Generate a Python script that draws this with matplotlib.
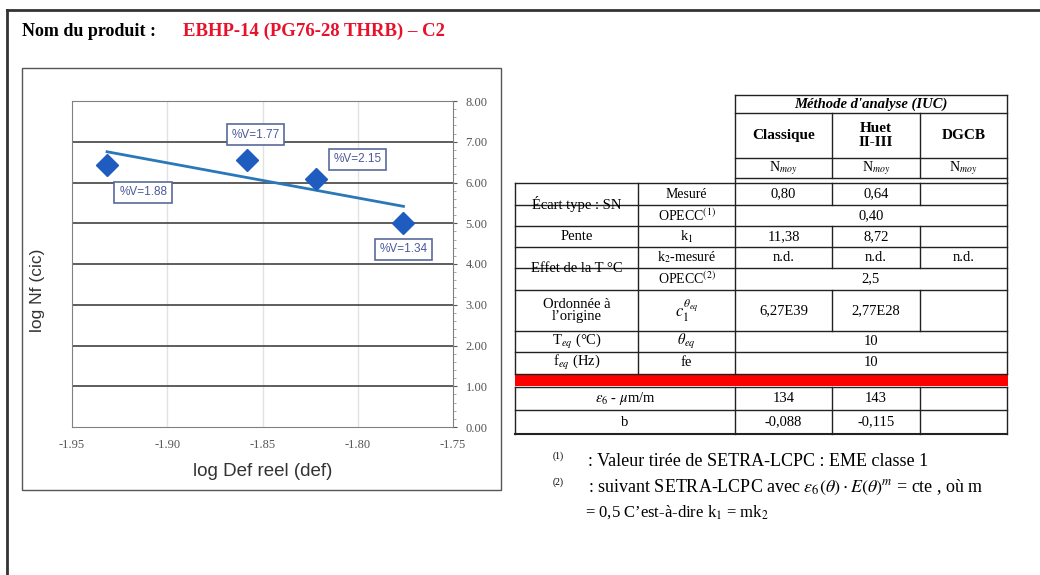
import numpy as np
from matplotlib import pyplot as plt
from matplotlib.patches import Rectangle

plt.rcParams['mathtext.fontset'] = 'stix'

# chart data
log_def = [-1.9316, -1.858, -1.822, -1.776]
log_nf = [6.44, 6.56, 6.09, 5.01]
point_labels = ['%V=1.88', '%V=1.77', '%V=2.15', '%V=1.34']
label_offsets = [(26, -20), (6, 18), (30, 14), (0, -19)]
x_ticks = [-1.95, -1.90, -1.85, -1.80, -1.75]
y_ticks = [0, 1, 2, 3, 4, 5, 6, 7, 8]

# table data
methods = ['Classique', 'Huet\nII-III', 'DGCB']
n_labels = ['N$_{moy}$', 'N$_{moy}$', 'N$_{moy}$']
sn_mesure = ['0,80', '0,64', '']
sn_opecc = '0,40'
pente = ['11,38', '8,72', '']
k2_mesure = ['n.d.', 'n.d.', 'n.d.']
k2_opecc = '2,5'
ordonnee = ['6,27E39', '2,77E28', '']
t_eq = '10'
f_eq = '10'
eps6 = ['134', '143', '']
b_vals = ['-0,088', '-0,115', '']

serif = 'Liberation Serif'
sans = 'Liberation Sans'

fig = plt.figure(figsize=(10.4, 5.75), dpi=100)

# page overlay in pixel coords
pg = fig.add_axes([0, 0, 1, 1])
pg.set_xlim(0, 1040)
pg.set_ylim(575, 0)
pg.axis('off')

pg.plot([7, 1040], [10, 10], color='#333333', lw=2)
pg.plot([7, 7], [10, 575], color='#333333', lw=2)
pg.add_patch(Rectangle((22, 68), 479, 422, fill=False, ec='#555555', lw=1))

pg.text(22, 31, 'Nom du produit :', fontsize=13, fontweight='bold', family=serif, va='center')
pg.text(183, 31, 'EBHP-14 (PG76-28 THRB) \u2013 C2', fontsize=13.5, fontweight='bold',
        family=serif, color='#e8102a', va='center')

# chart
ax = fig.add_axes([72 / 1040, 1 - 427 / 575, 381 / 1040, 326 / 575])
for s in ax.spines.values():
    s.set_color('#808080')
for yv in y_ticks[1:-1]:
    ax.axhline(yv, color='#505050', lw=1.3, zorder=1)
for xv in x_ticks[1:-1]:
    ax.axvline(xv, color='#e2e2e2', lw=1, zorder=0)

fit = np.polyfit(log_def, log_nf, 1)
xs = np.array([min(log_def), max(log_def)])
ax.plot(xs, np.polyval(fit, xs), color='#2a78b8', lw=2, zorder=2)
ax.plot(log_def, log_nf, 'D', color='#1f5cbf', ms=11, zorder=3)

for x, y, lab, off in zip(log_def, log_nf, point_labels, label_offsets):
    ax.annotate(lab, (x, y), xytext=off, textcoords='offset points', ha='center', va='center',
                fontsize=8.5, color='#4a5a9a', family=sans,
                bbox=dict(boxstyle='square,pad=0.4', fc='white', ec='#5a6a9a', lw=1.2))

ax.set_xlim(-1.95, -1.75)
ax.set_ylim(0, 8)
ax.set_xticks(x_ticks)
ax.set_xticklabels(['%.2f' % v for v in x_ticks])
ax.yaxis.tick_right()
ax.set_yticks(y_ticks)
ax.set_yticklabels(['%.2f' % v for v in y_ticks])
ax.set_yticks(np.arange(0, 8.01, 0.2), minor=True)
ax.tick_params(axis='both', labelsize=9, colors='#555555', length=3, pad=6)
ax.tick_params(axis='y', which='minor', length=2, colors='#999999')
ax.tick_params(axis='x', length=0, pad=9)
for t in ax.get_xticklabels() + ax.get_yticklabels():
    t.set_family(serif)
ax.yaxis.set_label_position('left')
ax.set_ylabel('log Nf (cic)', fontsize=12.5, family=sans, color='#333333')
ax.yaxis.set_label_coords(-0.07, 0.42)
ax.set_xlabel('log Def reel (def)', fontsize=13.5, family=sans, color='#333333')
ax.xaxis.set_label_coords(0.5, -0.11)

# table
lc = '#222222'
def hline(y, x0, x1, lw=1):
    pg.plot([x0, x1], [y, y], color=lc, lw=lw)

def vline(x, y0, y1, lw=1):
    pg.plot([x, x], [y0, y1], color=lc, lw=lw)

def cell(x0, x1, y0, y1, s, size=10.5, ls=0.95, **kw):
    pg.text((x0 + x1) / 2, (y0 + y1) / 2, s, ha='center', va='center', fontsize=size,
            family=serif, linespacing=ls, **kw)

cols = [735, 832, 920, 1007]
# header block
hline(95, 735, 1007)
for y in [113, 158, 178]:
    hline(y, 735, 1007)
vline(735, 95, 183)
vline(1007, 95, 183)
for x in cols[1:3]:
    vline(x, 113, 178)
cell(735, 1007, 95, 113, "M\u00e9thode d'analyse (IUC)", fontweight='bold', fontstyle='italic')
for i, m in enumerate(methods):
    cell(cols[i], cols[i + 1], 113, 158, m, size=11, ls=1.15, fontweight='bold')
    cell(cols[i], cols[i + 1], 158, 178, n_labels[i], size=10)

# body
rows = [183, 205, 226, 247, 268, 290, 331, 352, 374]
for y in rows:
    hline(y, 515, 1007)
hline(387, 515, 1007)
hline(410, 515, 1007)
hline(434, 515, 1007, lw=1.5)
vline(515, 183, 374)
vline(515, 387, 434)
vline(1007, 183, 374)
vline(1007, 387, 434)
vline(638, 183, 374)
vline(735, 183, 374)
vline(735, 387, 434)
for x in [832, 920]:
    vline(x, 183, 205)
    vline(x, 226, 268)
    vline(x, 290, 331)
    vline(x, 387, 434)
pg.add_patch(Rectangle((515, 375), 493, 11, color='#ff0000', lw=0))

cell(515, 638, 183, 226, '\u00c9cart type : SN')
cell(638, 735, 183, 205, 'Mesur\u00e9', size=10)
cell(638, 735, 205, 226, 'OPECC$^{(1)}$', size=10)
for i in range(3):
    cell(cols[i], cols[i + 1], 183, 205, sn_mesure[i])
cell(735, 1007, 205, 226, sn_opecc)

cell(515, 638, 226, 247, 'Pente')
cell(638, 735, 226, 247, 'k$_1$')
for i in range(3):
    cell(cols[i], cols[i + 1], 226, 247, pente[i])

cell(515, 638, 247, 290, 'Effet de la T \u00b0C')
cell(638, 735, 247, 268, 'k$_2$-mesur\u00e9', size=10)
cell(638, 735, 268, 290, 'OPECC$^{(2)}$', size=10)
for i in range(3):
    cell(cols[i], cols[i + 1], 247, 268, k2_mesure[i])
cell(735, 1007, 268, 290, k2_opecc)

cell(515, 638, 290, 331, 'Ordonn\u00e9e \u00e0\nl\u2019origine')
cell(638, 735, 290, 331, r'$c_1^{\theta_{eq}}$', size=12)
for i in range(3):
    cell(cols[i], cols[i + 1], 290, 331, ordonnee[i])

cell(515, 638, 331, 352, 'T$_{eq}$ (\u00b0C)')
cell(638, 735, 331, 352, r'$\theta_{eq}$')
cell(735, 1007, 331, 352, t_eq)
cell(515, 638, 352, 374, 'f$_{eq}$ (Hz)')
cell(638, 735, 352, 374, 'fe')
cell(735, 1007, 352, 374, f_eq)

cell(515, 735, 387, 410, r'$\varepsilon_6$ - $\mu$m/m')
cell(515, 735, 410, 434, 'b')
for i in range(3):
    cell(cols[i], cols[i + 1], 387, 410, eps6[i])
    cell(cols[i], cols[i + 1], 410, 434, b_vals[i])

# footnotes
pg.text(553, 456, '(1)', fontsize=7, family=serif, va='center')
pg.text(588, 461, ': Valeur tir\u00e9e de SETRA-LCPC : EME classe 1', fontsize=13, family=serif, va='center')
pg.text(553, 482, '(2)', fontsize=7, family=serif, va='center')
pg.text(588, 487, ': suivant SETRA-LCPC avec $\\varepsilon_6(\\theta)\\cdot E(\\theta)^m$ = cte , o\u00f9 m',
        fontsize=13, family=serif, va='center')
pg.text(585, 512, '= 0,5 C\u2019est-\u00e0-dire k$_1$ = mk$_2$', fontsize=12, family=serif, va='center')

fig.savefig('out.png', dpi=100)
